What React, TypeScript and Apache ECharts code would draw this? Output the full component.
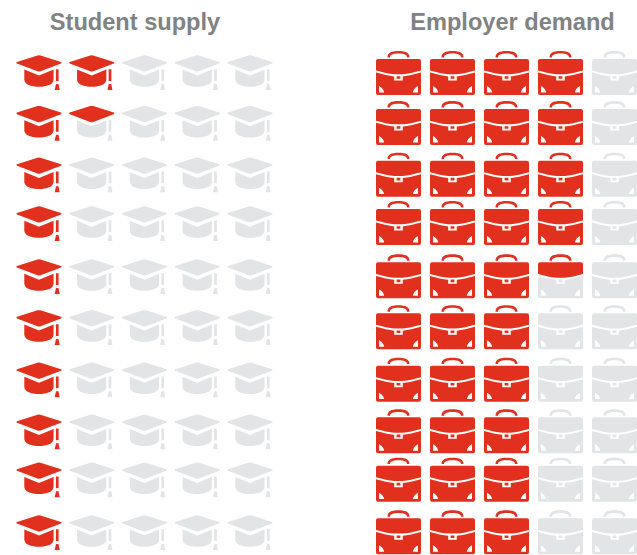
import React, { useEffect, useRef } from "react";
import * as echarts from "echarts";

const titles = ["Student supply", "Employer demand"];
const columns = ["1", "2", "3", "4", "5"];
const rows = ["1", "2", "3", "4", "5", "6", "7", "8", "9", "10"];
const studentSupply = [2, 1.5, 1, 1, 1, 1, 1, 1, 1, 1];
const employerDemand = [4, 4, 4, 4, 3.5, 3, 3, 3, 3, 3];

const RED = "#e1301e";
const GREY = "#e3e4e6";
const TITLE = "#808284";
// small hand-placement offsets of the rows in the original artwork (style only)
const hatRowShift = [0, -0.4, 0.1, -2.3, -0.4, -0.6, 0.6, 1.5, -1.6, 0];
const caseRowShift = [0, -1, -0.4, -3.1, -0.8, -0.9, 0.5, 1.1, -1.6, 0];

const shapes: Record<string, string> = {
  hatCap:
    "M1 6.9 L21.5 0.4 Q23 0 24.5 0.4 L45 6.9 Q46.4 7.7 45 8.5 L24.5 16.3 Q23 16.8 21.5 16.3 L1 8.5 Q-0.4 7.7 1 6.9 Z",
  hatBody:
    "M8.3 14.6 L23 20.6 L37.6 14.6 V25 C37 29.5 31 31.8 23 31.8 C15 31.8 9 29.5 8.3 25 Z M39.9 14.3 H42.6 V26 H39.9 Z M40 29 H42.5 L43.7 35 H38.7 Z",
  caseTop:
    "M0 10 Q0 8 2 8 H43 Q45 8 45 10 V19.6 C38 21.6 32 22.8 26.6 23.3 H18.4 C13 22.8 7 21.6 0 19.6 Z M11.5 6.4 C11.5 2 15 0 22.5 0 C30 0 33.5 2 33.5 6.4 H31 C31 3.8 28 2.6 22.5 2.6 C17 2.6 14 3.8 14 6.4 Z",
  caseBottom:
    "M0 21.6 C7 23.6 13 24.9 18.2 25.4 V29.5 H26.8 V25.4 C32 24.9 38 23.6 45 21.6 V42 Q45 44 43 44 H2 Q0 44 0 42 Z M3 41.4 H8.2 Q7.4 37.2 3 35 Z M36.8 41.4 H42 V35 Q37.6 37.2 36.8 41.4 Z M20.6 25.2 V27.8 H24.4 V25.2 Z",
};
Object.entries(shapes).forEach(([name, d]) =>
  echarts.graphic.registerShape(name, echarts.graphic.extendPath(d, {}))
);

const cells = (values: number[]) =>
  values.flatMap((v, r) =>
    columns.map((_, c) => [c, r, Math.max(0, Math.min(1, v - c))])
  );

const iconSeries = (
  index: number,
  values: number[],
  top: string,
  bottom: string,
  w: number,
  h: number,
  shift: number[]
) => ({
  type: "custom",
  coordinateSystem: "cartesian2d",
  xAxisIndex: index,
  yAxisIndex: index,
  silent: true,
  clip: false,
  data: cells(values),
  encode: { x: 0, y: 1 },
  renderItem: (_: any, api: any) => {
    const [cx, cy] = api.coord([api.value(0), api.value(1)]);
    const level = api.value(2);
    return {
      type: "group",
      x: cx - w / 2,
      y: cy - h / 2 + shift[api.value(1)],
      children: [
        { type: top, style: { fill: level >= 0.5 ? RED : GREY } },
        { type: bottom, style: { fill: level >= 1 ? RED : GREY } },
      ],
    };
  },
});

export default function App() {
  const ref = useRef<HTMLDivElement>(null);
  useEffect(() => {
    const chart = echarts.init(ref.current!, null, { renderer: "svg" });
    chart.setOption({
      animation: false,
      backgroundColor: "#ffffff",
      title: titles.map((text, i) => ({
        text,
        left: i === 0 ? 130 : 507.5,
        top: 4.5,
        textAlign: "center",
        textStyle: {
          color: TITLE,
          fontFamily: "Liberation Sans",
          fontWeight: "bold",
          fontSize: 23.6,
        },
      })),
      grid: [
        { left: 39, top: 72.5, width: 211, height: 460 },
        { left: 398.5, top: 73, width: 216, height: 459.3 },
      ],
      xAxis: [0, 1].map((gridIndex) => ({
        type: "category",
        gridIndex,
        data: columns,
        boundaryGap: false,
        show: false,
      })),
      yAxis: [0, 1].map((gridIndex) => ({
        type: "category",
        gridIndex,
        data: rows,
        boundaryGap: false,
        inverse: true,
        show: false,
      })),
      series: [
        iconSeries(0, studentSupply, "hatCap", "hatBody", 46, 35, hatRowShift),
        iconSeries(1, employerDemand, "caseTop", "caseBottom", 45, 44, caseRowShift),
      ],
    });
    return () => chart.dispose();
  }, []);
  return (
    <div
      ref={ref}
      style={{ position: "absolute", left: 0, top: 0, width: 637, height: 555 }}
    />
  );
}
